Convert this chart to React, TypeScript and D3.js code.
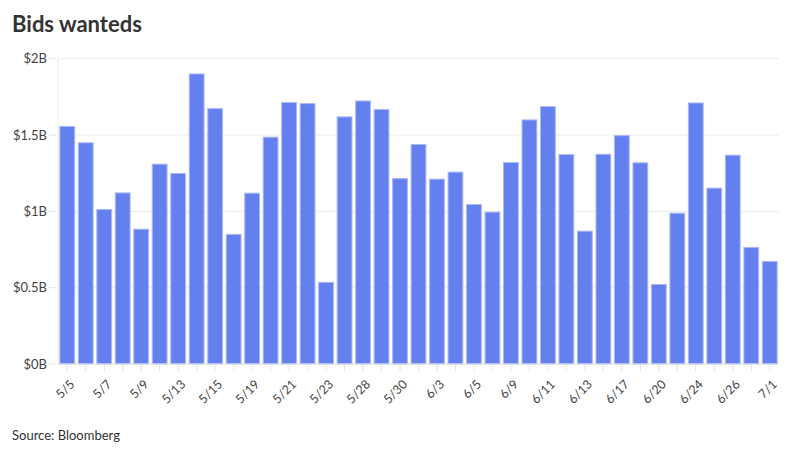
import React from "react";
import * as d3 from "d3";

const dates = [
  "5/5", "5/6", "5/7", "5/8", "5/9", "5/12", "5/13", "5/14", "5/15", "5/16",
  "5/19", "5/20", "5/21", "5/22", "5/23", "5/27", "5/28", "5/29", "5/30", "6/2",
  "6/3", "6/4", "6/5", "6/6", "6/9", "6/10", "6/11", "6/12", "6/13", "6/16",
  "6/17", "6/18", "6/20", "6/23", "6/24", "6/25", "6/26", "6/27", "7/1",
];

const values = [
  1.556, 1.449, 1.012, 1.121, 0.883, 1.309, 1.248, 1.9, 1.673, 0.849,
  1.119, 1.486, 1.713, 1.706, 0.535, 1.619, 1.723, 1.667, 1.215, 1.438,
  1.211, 1.257, 1.045, 0.995, 1.32, 1.599, 1.686, 1.372, 0.87, 1.374,
  1.496, 1.318, 0.521, 0.988, 1.71, 1.152, 1.368, 0.764, 0.672,
];

const yTicks = [0, 0.5, 1, 1.5, 2];
const yTickLabels = ["$0B", "$0.5B", "$1B", "$1.5B", "$2B"];

const title = "Bids wanteds";
const source = "Source: Bloomberg";

export default function App() {
  const W = 800;
  const H = 450;
  const left = 58;
  const right = 779;
  const top = 58.7;
  const bottom = 364;

  const x = d3
    .scaleBand<string>()
    .domain(dates)
    .range([left, right])
    .paddingInner(0.2)
    .paddingOuter(0.1);
  const y = d3.scaleLinear().domain([0, 2]).range([bottom, top]);

  const font = "Lato, 'Open Sans', sans-serif";

  return (
    <svg
      width={W}
      height={H}
      style={{ position: "absolute", left: 0, top: 0, background: "#fff" }}
      fontFamily={font}
    >
      <text x={12} y={32} fontSize={22} fontWeight={700} fill="#333">
        {title}
      </text>

      {/* gridlines */}
      {yTicks.map((t, i) => (
        <g key={"g" + i}>
          <line
            x1={left}
            x2={right}
            y1={y(t)}
            y2={y(t)}
            stroke="#ebebeb"
            strokeWidth={1}
          />
          <line x1={49} x2={56} y1={y(t)} y2={y(t)} stroke="#e2e2e2" />
          <text
            x={47}
            y={y(t)}
            dy="0.35em"
            textAnchor="end"
            fontSize={13}
            fill="#444"
          >
            {yTickLabels[i]}
          </text>
        </g>
      ))}
      <line x1={left} x2={left} y1={top} y2={bottom} stroke="#ebebeb" />

      {/* bars */}
      {values.map((v, i) => (
        <rect
          key={"b" + i}
          x={x(dates[i])!}
          y={y(v)}
          width={x.bandwidth()}
          height={bottom - y(v)}
          fill="#6480ef"
          stroke="#aab8f6"
          strokeWidth={1}
        />
      ))}

      {/* x axis */}
      <line x1={left} x2={right} y1={bottom} y2={bottom} stroke="#e6e6e6" />
      {dates.map((d, i) => {
        const cx = x(d)! + x.bandwidth() / 2;
        return (
          <g key={"x" + i}>
            <line x1={cx} x2={cx} y1={bottom} y2={bottom + 7} stroke="#e2e2e2" />
            {i % 2 === 0 && (
              <text
                transform={`translate(${cx + 5},${bottom + 18}) rotate(-45)`}
                textAnchor="end"
                fontSize={12.5}
                fill="#444"
                dy="0.35em"
              >
                {d}
              </text>
            )}
          </g>
        );
      })}

      <text x={12} y={440} fontSize={13} fill="#333">
        {source}
      </text>
    </svg>
  );
}
